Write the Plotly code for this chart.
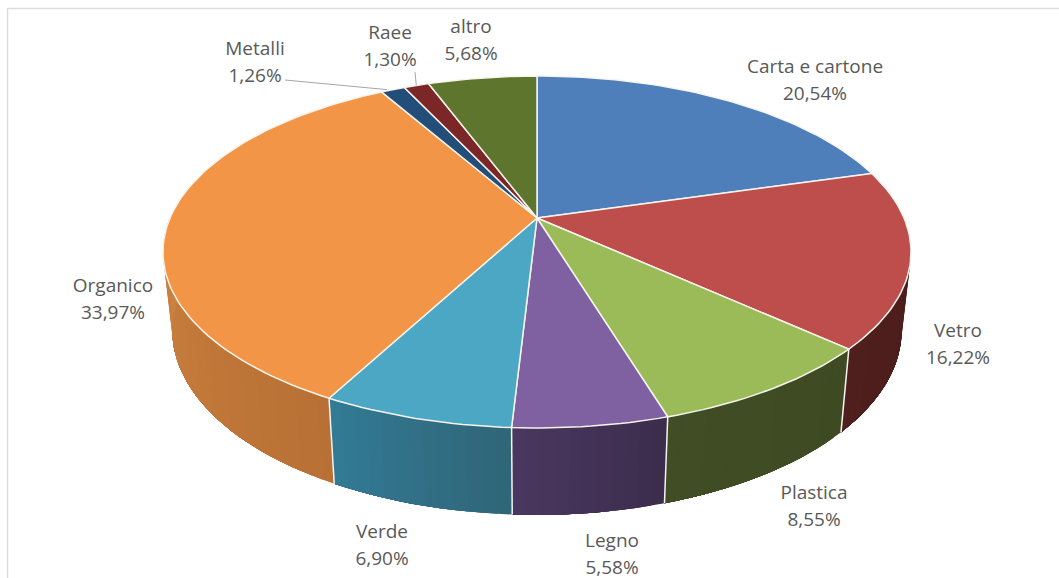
import math
import plotly.graph_objects as go

categories = ["Carta e cartone", "Vetro", "Plastica", "Legno", "Verde", "Organico", "Metalli", "Raee", "altro"]
shares = [20.54, 16.22, 8.55, 5.58, 6.90, 33.97, 1.26, 1.30, 5.68]
top_colors = ["#4F7FBB", "#BE4E4B", "#9BBB59", "#7F60A0", "#4BA7C4", "#F39546", "#234E7A", "#7C2727", "#5E752E"]
wall_from = ["#3A5C88", "#4F1F1D", "#414D24", "#4B3760", "#337B96", "#CC8240", "#1A3A5A", "#5A1C1C", "#45561F"]
wall_to = ["#2F4C70", "#4A1C1A", "#3E4A22", "#3B2D4C", "#2F6577", "#B87034", "#1A3A5A", "#5A1C1C", "#45561F"]
label_xy = [(815, 68), (958, 332), (814, 494), (612, 542), (382, 533), (113, 287), (255, 50), (390, 34), (471, 28)]

W, H = 1059, 578
APEX_X, APEX_Y = 537, 218
A, B, K = 367.0, 169.4, 0.193
BOT_SX, BOT_SY, BOT_Y0 = 0.975, 1.05, 294.5
LINE_GAP = 27.5
FONT = "Open Sans"
FONT_SIZE = 19


def top_pt(pct):
    t = math.radians(pct * 3.6)
    u, v = math.sin(t), math.cos(t)
    w = 1 + K * v
    return APEX_X + A * u / w, APEX_Y - B * v / w


def bot_pt(pct):
    x, y = top_pt(pct)
    return APEX_X + BOT_SX * (x - APEX_X), BOT_Y0 + BOT_SY * (y - APEX_Y)


def mix(c1, c2, f):
    a = [int(c1[i:i + 2], 16) for i in (1, 3, 5)]
    b = [int(c2[i:i + 2], 16) for i in (1, 3, 5)]
    return "rgb(%d,%d,%d)" % tuple(round(p + (q - p) * f) for p, q in zip(a, b))


def frange(a, b, n):
    return [a + (b - a) * i / n for i in range(n + 1)]


def poly(xs, ys, fill, line=None, width=0):
    return go.Scatter(x=xs, y=ys, mode="lines", fill="toself", fillcolor=fill,
                      line=dict(color=line or fill, width=width),
                      hoverinfo="skip", showlegend=False)


fig = go.Figure()

bounds = [0.0]
for s in shares:
    bounds.append(bounds[-1] + s)

WALL_START, WALL_END = 26.0, 75.0
# walls: overlapping strips so that no seam shows between gradient steps
for i in range(len(shares)):
    lo, hi = max(bounds[i], WALL_START), min(bounds[i + 1], WALL_END)
    if hi <= lo:
        continue
    n = max(1, int((hi - lo) * 2))
    steps = frange(lo, hi, n)
    for j in range(n):
        a, b = steps[j], steps[j + 1]
        mids = frange(a, hi, max(1, n - j))
        front = [top_pt(p) for p in mids]
        back = [bot_pt(p) for p in reversed(mids)]
        pts = front + back + front[:1]
        f = (j + 0.5) / n
        # gradient runs left to right across the slice
        f = 1 - f if i in (1, 2, 3, 4, 5) else f
        fig.add_trace(poly([q[0] for q in pts], [q[1] for q in pts], mix(wall_from[i], wall_to[i], f)))

# seams between walls
for p in bounds:
    if WALL_START < p < WALL_END:
        x0, y0 = top_pt(p)
        x1, y1 = bot_pt(p)
        fig.add_trace(go.Scatter(x=[x0, x1], y=[y0, y1], mode="lines",
                                 line=dict(color="#F4F4F4", width=1.5),
                                 hoverinfo="skip", showlegend=False))

# top faces
for i in range(len(shares)):
    n = max(4, int(shares[i] * 3))
    pts = [top_pt(p) for p in frange(bounds[i], bounds[i + 1], n)]
    xs = [APEX_X] + [q[0] for q in pts] + [APEX_X]
    ys = [APEX_Y] + [q[1] for q in pts] + [APEX_Y]
    fig.add_trace(poly(xs, ys, top_colors[i], "#F7F4EE", 1.5))

# labels
names_x = [p[0] for p in label_xy]
fig.add_trace(go.Scatter(x=names_x, y=[p[1] for p in label_xy], mode="text", text=categories,
                         textposition="middle center",
                         textfont=dict(family=FONT, size=FONT_SIZE, color="#595959"),
                         hoverinfo="skip", showlegend=False))
fig.add_trace(go.Scatter(x=names_x, y=[p[1] + LINE_GAP for p in label_xy], mode="text",
                         text=[f"{s:.2f}%".replace(".", ",") for s in shares],
                         textposition="middle center",
                         textfont=dict(family=FONT, size=FONT_SIZE, color="#595959"),
                         hoverinfo="skip", showlegend=False))

# leader lines
mx, my = top_pt((bounds[6] + bounds[7]) / 2)
rx, ry = top_pt((bounds[7] + bounds[8]) / 2)
for xs, ys in (([285, mx - 6], [80, my]), ([415, rx], [72, ry])):
    fig.add_trace(go.Scatter(x=xs, y=ys, mode="lines", line=dict(color="#A6A6A6", width=1),
                             hoverinfo="skip", showlegend=False))

# outer frame
fig.add_shape(type="line", x0=7, x1=W, y0=8.5, y1=8.5, line=dict(color="#DDDDDD", width=1.5))
fig.add_shape(type="line", x0=7.5, x1=7.5, y0=8, y1=H, line=dict(color="#DDDDDD", width=1.5))

fig.update_layout(width=W, height=H, margin=dict(l=0, r=0, t=0, b=0),
                  paper_bgcolor="white", plot_bgcolor="white", showlegend=False,
                  xaxis=dict(range=[0, W], visible=False, fixedrange=True),
                  yaxis=dict(range=[H, 0], visible=False, fixedrange=True))
fig.write_html("out.html", config=dict(displayModeBar=False), include_plotlyjs=True,
               post_script="document.body.style.margin='0';document.body.style.overflow='hidden';")
